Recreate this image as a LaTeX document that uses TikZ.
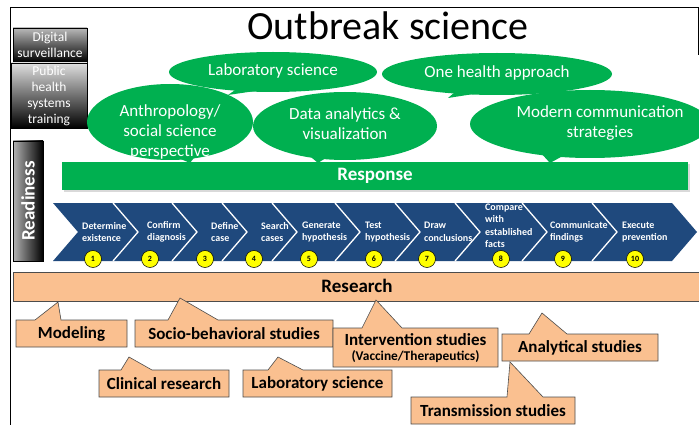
\documentclass[tikz,border=0pt]{standalone}
\usepackage{fontspec}
\setmainfont{Carlito}
\usetikzlibrary{positioning}
\definecolor{resgreen}{RGB}{0,176,80}
\definecolor{stepblue}{RGB}{31,73,125}
\definecolor{peach}{RGB}{250,192,144}
\definecolor{numyellow}{RGB}{255,255,0}

\begin{document}
\begin{tikzpicture}[x=1pt,y=1pt,
  bubble/.style={fill=resgreen},
  bubbletext/.style={text=white,font=\fontsize{17}{20}\selectfont,align=center,inner sep=0pt},
  graybox/.style={draw=black,line width=0.6pt,top color=gray!55,bottom color=black},
  graytext/.style={text=white,font=\fontsize{13.5}{16}\selectfont,align=center,inner sep=0pt},
  steplabel/.style={text=white,font=\bfseries\fontsize{10}{12.5}\selectfont,align=left,anchor=west,inner sep=0pt},
  stepnum/.style={circle,draw=black,line width=0.5pt,fill=numyellow,minimum size=17pt,inner sep=0pt,font=\bfseries\fontsize{8}{9}\selectfont},
  calloutbox/.style={fill=peach,draw=gray!60!black,line width=0.6pt},
  callouttext/.style={font=\bfseries\fontsize{17}{19}\selectfont,align=center,inner sep=0pt}]
\clip (0,0) rectangle (699,-425);
\draw[line width=0.9pt] (10,-425) -- (10,-7) -- (698,-7) -- (698,-55);
\node[font=\fontsize{40}{44}\selectfont] (title) at (388,-26) {Outbreak science};

\draw[graybox] (13,-28) rectangle (87,-62);
\node[graytext] (digital) at (50,-45) {Digital\\surveillance};
\draw[graybox,top color=gray!25] (11,-63) rectangle (87,-128);
\node[graytext] (training) at (49,-96) {Public\\health\\systems\\training};
\draw[draw=black,line width=0.6pt,left color=gray!60,right color=black] (13,-141) rectangle (43,-261);
\node[rotate=90,text=white,font=\bfseries\fontsize{19}{20}\selectfont] (readiness) at (28,-201) {Readiness};

\fill[bubble] (273,-72) ellipse [x radius=104,y radius=20];
\fill[bubble] (238,-88) -- (262,-90) -- (228,-95) -- cycle;
\fill[bubble] (497,-74) ellipse [x radius=115,y radius=21];
\fill[bubble] (455,-92) -- (480,-93) -- (448,-98) -- cycle;
\fill[bubble] (170,-122) ellipse [x radius=83,y radius=38];
\fill[bubble] (160,-150) -- (200,-150) -- (190,-163) -- cycle;
\fill[bubble] (345,-126) ellipse [x radius=92,y radius=34];
\fill[bubble] (305,-152) -- (335,-152) -- (318,-163) -- cycle;
\fill[bubble] (590,-124) ellipse [x radius=120,y radius=34];
\fill[bubble] (540,-152) -- (570,-152) -- (550,-163) -- cycle;
\fill[gray!30] (64,-164) rectangle (690,-192);
\fill[resgreen] (62,-162) rectangle (688,-190);
\node[text=white,font=\bfseries\fontsize{19}{21}\selectfont] (response) at (375,-176) {Response};
\node[bubbletext] (labsci) at (273,-71) {Laboratory science};
\node[bubbletext] (onehealth) at (497,-73) {One health approach};
\node[bubbletext] (anthro) at (170,-132) {Anthropology/\\social science\\perspective};
\node[bubbletext] (data) at (345,-124) {Data analytics \&\\visualization};
\node[bubbletext] (modern) at (600,-123) {Modern communication\\strategies};

\fill[stepblue] (53,-203) -- (672,-203) -- (697,-232) -- (672,-261) -- (53,-261) -- (78,-232) -- cycle;
\foreach \s in {113,172,222,272,335,395,455,522,592}
  \draw[white,line width=1.3pt] (\s,-203) -- (\s+25,-232) -- (\s,-261);
\foreach \lx/\ly/\cx/\txt [count=\i] in {82/232/93/{Determine\\existence},
    147/232/150/{Confirm\\diagnosis}, 211/232/205/{Define\\case},
    261/232/254/{Search\\cases}, 302/232/309/{Generate\\hypothesis},
    365/232/374/{Test\\hypothesis}, 424/232/427/{Draw\\conclusions},
    485/226/501/{Compare\\with\\established\\facts}, 550/232/563/{Communicate\\findings},
    622/232/635/{Execute\\prevention}}{
  \node[steplabel] (step\i) at (\lx,-\ly) {\txt};
  \node[stepnum] (num\i) at (\cx,-259) {\i};
}

\draw[calloutbox] (13,-272) rectangle (702,-301);
\node[font=\bfseries\fontsize{19}{21}\selectfont] (research) at (357,-286) {Research};

\draw[calloutbox] (16,-320) -- (35,-320) -- (58,-302) -- (61,-320) -- (127,-320) -- (127,-347) -- (16,-347) -- cycle;
\node[callouttext] (modeling) at (71.5,-334) {Modeling};
\draw[calloutbox] (135,-320) -- (168,-320) -- (180,-298) -- (218,-320) -- (333,-320) -- (333,-347) -- (135,-347) -- cycle;
\node[callouttext] (socio) at (234,-334) {Socio-behavioral studies};
\draw[calloutbox] (99,-370) -- (121,-370) -- (129,-357) -- (152,-370) -- (229,-370) -- (229,-397) -- (99,-397) -- cycle;
\node[callouttext] (clinical) at (164,-384) {Clinical research};
\draw[calloutbox] (243,-370) -- (268,-370) -- (278,-357) -- (303,-370) -- (392,-370) -- (392,-397) -- (243,-397) -- cycle;
\node[callouttext] (labstudy) at (317.5,-384) {Laboratory science};
\draw[calloutbox] (333,-328) -- (362,-328) -- (376,-300) -- (402,-328) -- (498,-328) -- (498,-367) -- (333,-367) -- cycle;
\node[callouttext] (intervention) at (415.5,-340) {Intervention studies};
\node[font=\bfseries\fontsize{13.4}{15}\selectfont,inner sep=0pt,below=4pt of intervention] (vaccine) {(Vaccine/Therapeutics)};
\draw[calloutbox] (502,-334) -- (529,-334) -- (542,-313) -- (567,-334) -- (658,-334) -- (658,-361) -- (502,-361) -- cycle;
\node[callouttext] (analytical) at (580,-347.5) {Analytical studies};
\draw[calloutbox] (411,-397) -- (507,-397) -- (510,-362) -- (543,-397) -- (575,-397) -- (575,-424) -- (411,-424) -- cycle;
\node[callouttext] (transmission) at (493,-411) {Transmission studies};
\end{tikzpicture}
\end{document}
